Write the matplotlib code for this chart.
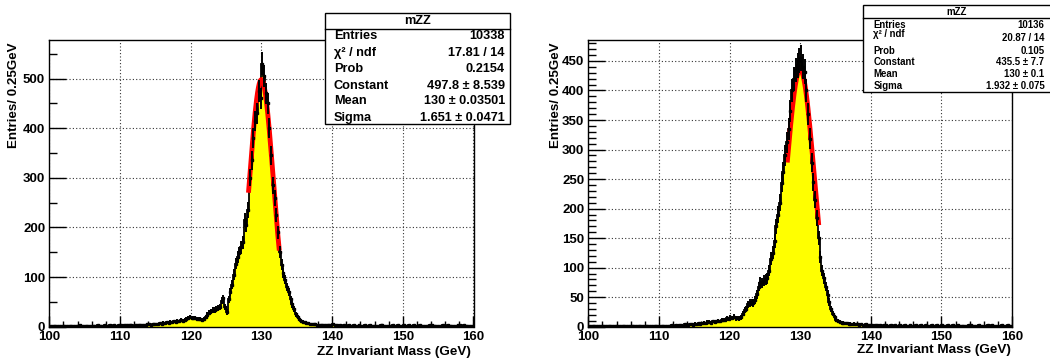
import numpy as np
import matplotlib.pyplot as plt
from matplotlib.patches import Rectangle
from matplotlib.ticker import MultipleLocator

plt.rcParams['font.family'] = ['Liberation Sans', 'DejaVu Sans']
plt.rcParams['font.weight'] = 'bold'

# binning: 100..160 GeV, 0.25 GeV per bin
bin_lo = 100.0
bin_w = 0.25

# left histogram, 4 bins per GeV row
counts_left = [
    1, 2, 1, 1,  2, 1, 1, 2,  1, 2, 2, 1,  2, 1, 2, 2,  1, 3, 2, 1,      # 100-104
    2, 2, 1, 2,  2, 1, 2, 3,  2, 2, 1, 3,  2, 2, 3, 2,  3, 2, 2, 3,      # 105-109
    4, 2, 3, 3,  3, 4, 3, 2,  4, 3, 4, 3,  3, 4, 4, 5,  5, 4, 6, 5,      # 110-114
    6, 5, 7, 6,  8, 7, 9, 8,  10, 9, 11, 10,  12, 11, 13, 12,  14, 15, 17, 19,  # 115-119
    18, 17, 18, 16,  16, 15, 14, 16,  20, 24, 28, 31,  33, 34, 36, 38,  40, 52, 57, 40,  # 120-124
    30, 55, 70, 85,  105, 127, 140, 148,  160, 170, 215, 205,  235, 300, 335, 380,  415, 430, 475, 460,  # 125-129
    530, 505, 470, 450,  400, 345, 285, 260,  225, 190, 150, 125,  108, 95, 80, 70,  55, 45, 35, 25,  # 130-134
    20, 15, 12, 10,  9, 8, 7, 6,  6, 5, 5, 4,  4, 3, 4, 3,  3, 4, 3, 3,  # 135-139
    6, 3, 3, 2,  3, 2, 3, 2,  2, 3, 2, 2,  3, 2, 2, 3,  2, 2, 3, 2,      # 140-144
    2, 3, 2, 2,  2, 2, 2, 3,  3, 2, 2, 2,  2, 2, 3, 2,  2, 3, 2, 2,      # 145-149
    4, 2, 2, 3,  2, 2, 3, 2,  2, 3, 2, 2,  2, 2, 2, 3,  3, 2, 2, 2,      # 150-154
    2, 2, 3, 2,  2, 3, 2, 2,  2, 2, 2, 3,  3, 2, 3, 2,  2, 2, 2, 2,      # 155-159
]

# right histogram
counts_right = [
    1, 1, 2, 1,  1, 2, 1, 1,  2, 1, 1, 2,  1, 1, 2, 1,  1, 2, 1, 1,      # 100-104
    2, 1, 1, 2,  1, 2, 1, 1,  1, 1, 2, 1,  2, 1, 1, 2,  1, 2, 2, 1,      # 105-109
    2, 1, 2, 2,  1, 2, 2, 3,  2, 3, 2, 3,  3, 2, 4, 3,  3, 4, 4, 3,      # 110-114
    5, 4, 6, 5,  6, 7, 6, 8,  8, 7, 9, 8,  9, 10, 9, 11,  12, 11, 14, 13,  # 115-119
    16, 15, 17, 14,  15, 14, 16, 22,  28, 30, 38, 40,  41, 40, 45, 55,  68, 76, 74, 78,  # 120-124
    80, 82, 95, 115,  125, 145, 170, 190,  210, 244, 262, 290,  312, 335, 365, 400,  420, 435, 443, 450,  # 125-129
    455, 440, 432, 400,  360, 318, 278, 245,  215, 184, 150, 118,  95, 82, 68, 54,  42, 30, 22, 16,  # 130-134
    12, 10, 8, 7,  7, 6, 6, 5,  5, 4, 5, 4,  4, 3, 4, 3,  3, 4, 3, 3,  # 135-139
    3, 2, 3, 3,  2, 3, 2, 3,  3, 2, 2, 3,  2, 3, 2, 2,  3, 2, 2, 3,      # 140-144
    2, 2, 3, 2,  2, 3, 2, 2,  3, 2, 2, 3,  2, 2, 3, 2,  2, 3, 2, 2,      # 145-149
    3, 2, 2, 3,  2, 2, 3, 2,  2, 3, 2, 2,  2, 2, 2, 3,  3, 2, 2, 2,      # 150-154
    2, 3, 2, 2,  2, 2, 3, 2,  3, 2, 2, 2,  2, 2, 3, 2,  2, 3, 2, 2,      # 155-159
]

# gaussian fit results (Constant, Mean, Sigma) and fit range
fit_left = [497.8, 130.0, 1.651]
fit_right = [435.5, 130.0, 1.932]
fit_range_left = [128.2, 132.5]
fit_range_right = [128.2, 132.6]

stat_labels = ["Entries", "\u03c7\u00b2 / ndf", "Prob", "Constant", "Mean", "Sigma"]
stat_left = ["10338", "17.81 / 14", "0.2154", "497.8 \u00b1 8.539", "130 \u00b1 0.03501", "1.651 \u00b1 0.0471"]
stat_right = ["10136", "20.87 / 14", "0.105", "435.5 \u00b1 7.7", "130 \u00b1 0.1", "1.932 \u00b1 0.075"]

W, H = 1050, 361


def fx(x):
    return x / W


def fy(y):
    return 1 - y / H


fig = plt.figure(figsize=(10.5, 3.61), dpi=100)
fig.patch.set_facecolor('white')


def draw_hist(rect, counts, fit, fit_range, ymax, ymajor, yminor):
    ax = fig.add_axes(rect)
    counts = np.array(counts, dtype=float)
    edges = bin_lo + bin_w * np.arange(len(counts) + 1)
    centers = 0.5 * (edges[:-1] + edges[1:])

    ax.stairs(counts, edges, fill=True, color='#ffff00', zorder=1)
    ax.stairs(counts, edges, color='black', lw=1.3, zorder=2)

    # gaussian fit
    xf = np.linspace(fit_range[0], fit_range[1], 200)
    yf = fit[0] * np.exp(-0.5 * ((xf - fit[1]) / fit[2]) ** 2)
    ax.plot(xf, yf, color='red', lw=3.5, zorder=3)

    ax.errorbar(centers, counts, yerr=np.sqrt(counts), fmt='s', ms=1.6,
                color='black', elinewidth=1.4, capsize=0, zorder=4)

    ax.set_xlim(100, 160)
    ax.set_ylim(0, ymax)
    ax.set_xticks(np.arange(100, 161, 10))
    ax.xaxis.set_minor_locator(MultipleLocator(2))
    ax.yaxis.set_major_locator(MultipleLocator(ymajor))
    ax.yaxis.set_minor_locator(MultipleLocator(yminor))
    ax.tick_params(which='both', direction='in', top=False, right=False,
                   labelsize=9.5, width=1)
    ax.tick_params(axis='x', which='major', length=8, pad=3)
    ax.tick_params(axis='x', which='minor', length=4)
    ax.tick_params(axis='y', which='major', length=12, pad=3)
    ax.tick_params(axis='y', which='minor', length=6)
    for lab in ax.get_xticklabels() + ax.get_yticklabels():
        lab.set_fontweight('bold')
    ax.grid(True, which='major', color='#333333', linestyle=(0, (1, 2)), lw=0.8)
    ax.set_axisbelow(True)
    for sp in ax.spines.values():
        sp.set_linewidth(1.0)
    return ax


ax_l = draw_hist([fx(49.3), fy(326.7), 424.2 / W, 286.4 / H],
                 counts_left, fit_left, fit_range_left, 577, 100, 50)
ax_r = draw_hist([fx(588.3), fy(326.7), 423.7 / W, 286.4 / H],
                 counts_right, fit_right, fit_range_right, 485, 50, 10)

# axis titles
fig.text(fx(14), fy(43), "Entries/ 0.25GeV", rotation=90, ha='center', va='top', fontsize=9.6)
fig.text(fx(556), fy(42), "Entries/ 0.25GeV", rotation=90, ha='center', va='top', fontsize=9.6)
fig.text(fx(470.5), fy(352), "ZZ Invariant Mass (GeV)", ha='right', va='center', fontsize=9.7)
fig.text(fx(1011), fy(350), "ZZ Invariant Mass (GeV)", ha='right', va='center', fontsize=9.7)


def stats_box(x0, x1, y0, y1, yline, xhead, yhead, rows, tx0, tx1, values, size, chi_label_dy=0):
    fig.add_artist(Rectangle((fx(x0), fy(y1)), (x1 - x0) / W, (y1 - y0) / H,
                             transform=fig.transFigure, facecolor='white',
                             edgecolor='black', lw=1.0, zorder=5))
    fig.add_artist(plt.Line2D([fx(x0), fx(x1)], [fy(yline), fy(yline)],
                              transform=fig.transFigure, color='black', lw=1.0, zorder=6))
    fig.text(fx(xhead), fy(yhead), "mZZ", ha='center', va='center', fontsize=size, zorder=7)
    for i, (lab, val) in enumerate(zip(stat_labels, values)):
        yl = rows[i]
        yv = rows[i]
        if i == 1:
            yl = rows[i] - chi_label_dy
            yv = rows[i] + chi_label_dy
        fig.text(fx(tx0), fy(yl), lab, ha='left', va='center', fontsize=size, zorder=7)
        fig.text(fx(tx1), fy(yv), val, ha='right', va='center', fontsize=size, zorder=7)


stats_box(325, 510, 12.5, 124.5, 28.5, 417.5, 20.5, [36, 53, 69.5, 86, 101.5, 118],
          334, 505, stat_left, 9.2)
stats_box(863, 1060, 5, 91.7, 18.3, 956.7, 12, [25, 36.3, 50.7, 62.3, 74, 86],
          873.3, 1044.3, stat_right, 6.9, chi_label_dy=2)

fig.savefig('out.png', dpi=100)
